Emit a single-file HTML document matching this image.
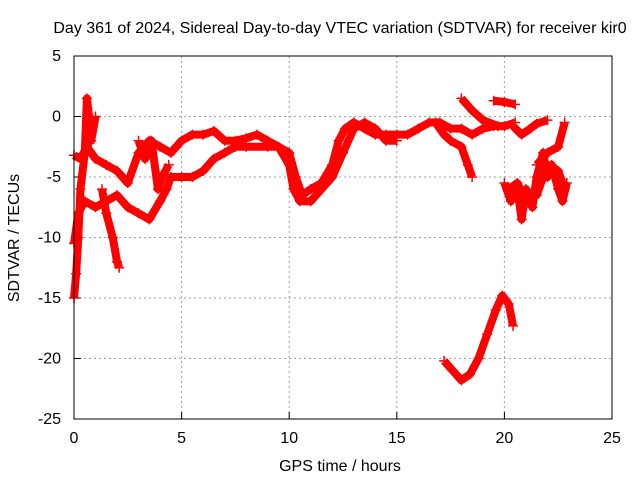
<!DOCTYPE html>
<html><head><meta charset="utf-8"><style>
body{margin:0;background:#fff;}
svg text{font-family:"Liberation Sans",sans-serif;font-size:16px;fill:#000;}
</style></head><body>
<svg id="chart" width="640" height="480">
<text x="340" y="33" text-anchor="middle">Day 361 of 2024, Sidereal Day-to-day VTEC variation (SDTVAR) for receiver kir0</text>
<text x="340" y="471" text-anchor="middle">GPS time / hours</text>
<text transform="translate(19,238) rotate(-90)" text-anchor="middle">SDTVAR / TECUs</text>
<g id="grid"></g><g id="ticks"></g><g id="series"></g>
<rect x="74" y="56" width="538" height="363" fill="none" stroke="#000" stroke-width="1"/>
</svg>
<script>
const xTicks=[0,5,10,15,20,25];
const yTicks=[5,0,-5,-10,-15,-20,-25];
const trackUpper=[[0,-3.2],[0.3,-3.5],[0.6,-2.5],[1,-3.5],[1.5,-4],[2,-4.5],[2.5,-5.5],[3,-3],[3.5,-2],[4,-2.5],[4.5,-3],[5,-2],[5.5,-1.5],[6,-1.5],[6.5,-1.2],[7,-2],[7.5,-2],[8,-1.8],[8.5,-1.5],[9,-2],[9.5,-2.5],[10,-3],[10.3,-5],[10.6,-6.5],[11,-6],[11.5,-5.5],[12,-4],[12.3,-2],[12.6,-1],[13,-0.5],[13.5,-1],[14,-1.5],[14.5,-1.5],[15,-1.5],[15.5,-1.5],[16,-1],[16.5,-0.5],[17,-0.5],[17.5,-1],[18,-1],[18.5,-1.5],[19,-1],[19.5,-0.8],[20,-0.8],[20.5,-0.5]];
const trackLower=[[0,-10.5],[0.2,-8],[0.5,-7],[1,-7.5],[1.5,-7],[2,-6.5],[2.5,-7.5],[3,-8],[3.5,-8.5],[4,-7],[4.3,-6],[4.5,-5],[5,-5],[5.5,-5],[6,-4.5],[6.5,-3.5],[7,-3],[7.5,-2.5],[8,-2.5],[9,-2.5],[9.5,-2.5],[10,-4],[10.2,-6],[10.5,-7],[11,-7],[11.5,-6],[12,-5],[12.5,-3],[13,-1],[13.5,-0.5],[14,-1],[14.5,-2],[15,-2]];
const trackSpike=[[0,-15],[0.1,-13],[0.2,-10],[0.3,-6],[0.5,-3],[0.6,1.5],[0.7,0],[0.8,-2],[1,0]];
const trackDip=[[1.3,-6],[1.5,-8],[1.8,-10],[2,-12],[2.1,-12.5]];
const trackMid=[[3,-2],[3.3,-3.5],[3.6,-2],[3.9,-6],[4.1,-5],[4.4,-4]];
const trackDrop=[[16.8,-0.5],[17.2,-1.5],[17.5,-2],[18,-2.5],[18.3,-4],[18.5,-5]];
const trackHigh1=[[18,1.5],[18.5,0.5],[19,-0.3],[19.7,-0.8]];
const trackHigh2=[[19.5,1.3],[20,1.2],[20.5,1]];
const trackArc=[[17.2,-20.2],[17.6,-21],[18,-21.8],[18.4,-21.3],[18.8,-20],[19.2,-18],[19.6,-16],[19.9,-14.8],[20.2,-15.5],[20.4,-17.3]];
const trackRight=[[20,-5.5],[20.3,-7],[20.6,-6],[20.8,-8.5],[21,-6],[21.3,-7.5],[21.5,-5],[21.8,-3],[22,-5],[22.2,-4],[22.5,-6],[22.7,-7],[22.9,-5.5]];
const trackRight2=[[20.4,-0.8],[20.8,-1.5],[21.2,-1],[21.5,-0.6],[22,-0.3]];
const trackRight3=[[21.5,-4],[22,-3],[22.5,-2.5],[22.8,-0.5]];
const trackRight4=[[20.2,-6],[20.6,-5.5],[21,-7],[21.5,-6.5],[22,-4],[22.5,-4.5],[22.8,-6]];
const tracks=[trackUpper,trackLower,trackSpike,trackDip,trackMid,trackDrop,trackHigh1,trackHigh2,trackArc,trackRight,trackRight2,trackRight3,trackRight4];
const X=v=>74+v*538/25, Y=v=>56+(5-v)*363/30;
const NS="http://www.w3.org/2000/svg";
const g=document.getElementById('grid'),t=document.getElementById('ticks'),s=document.getElementById('series');
function mk(tag,attrs,p){const e=document.createElementNS(NS,tag);for(const k in attrs)e.setAttribute(k,attrs[k]);p.appendChild(e);return e;}
xTicks.forEach(v=>{
 if(v>0&&v<25){const l=mk('line',{x1:X(v),x2:X(v),y1:56,y2:419,stroke:'#a0a0a0','stroke-dasharray':'2,3'},g);
 
 }
 mk('line',{x1:X(v),x2:X(v),y1:419,y2:412,stroke:'#000'},t);
 const tx=mk('text',{x:X(v),y:443,'text-anchor':'middle'},t);tx.textContent=v;
 
 
});
yTicks.forEach(v=>{
 if(v<5&&v>-25){const l=mk('line',{x1:74,x2:612,y1:Y(v),y2:Y(v),stroke:'#a0a0a0','stroke-dasharray':'2,3'},g);
 
 }
 mk('line',{x1:74,x2:81,y1:Y(v),y2:Y(v),stroke:'#000'},t);
 const tx=mk('text',{x:61,y:Y(v)+5,'text-anchor':'end'},t);tx.textContent=v;
 
 
});
tracks.forEach(tr=>{
 const pl=mk('polyline',{points:tr.map(p=>X(p[0])+','+Y(p[1])).join(' '),fill:'none',stroke:'#f00','stroke-width':8,'stroke-linejoin':'round'},s);
 
 
 tr.forEach(p=>{
  const m=mk('path',{d:`M${X(p[0])-5},${Y(p[1])}h10M${X(p[0])},${Y(p[1])-5}v10`,stroke:'#f00','stroke-width':1.5},s);
  
  
 });
});
</script>
</body></html>
